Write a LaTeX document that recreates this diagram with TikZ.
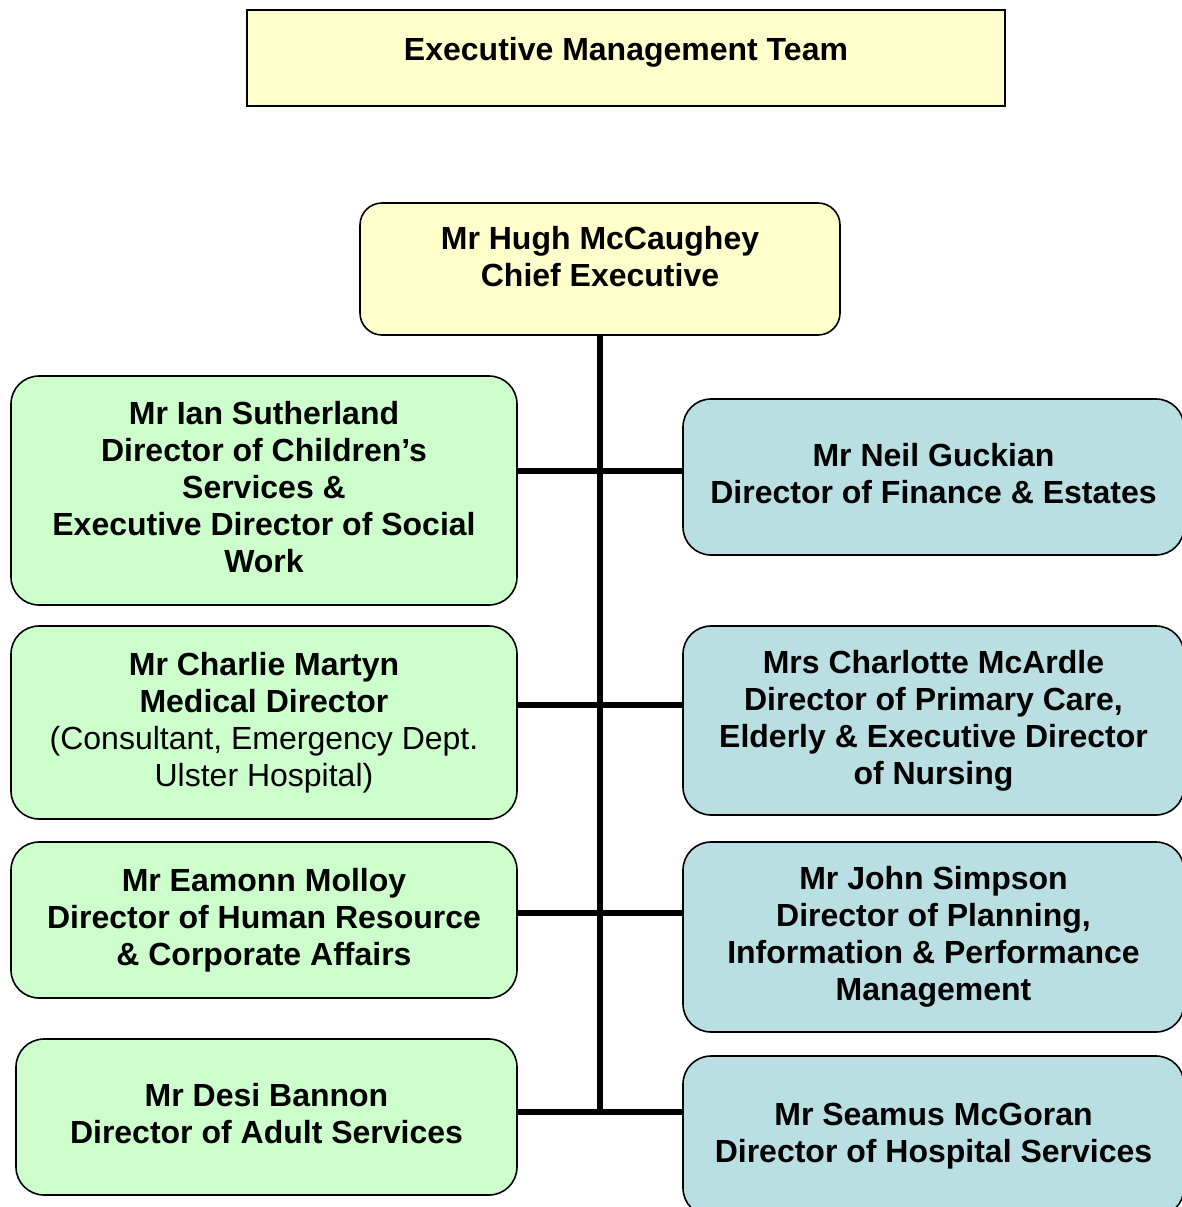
\documentclass[tikz,border=0pt]{standalone}
\usepackage{fontspec}
\setmainfont{Liberation Sans}
\definecolor{paleyellow}{HTML}{FFFFCC}
\definecolor{palegreen}{HTML}{CCFFCC}
\definecolor{paleblue}{HTML}{B9DFE2}
% a little room under the last line lifts the text block slightly
\newcommand{\lift}{\\[-30pt]}
\begin{document}
\begin{tikzpicture}[x=1pt,y=-1pt,
  every node/.style={font=\fontsize{32}{37}\selectfont\bfseries, align=center},
  boxbase/.style={draw=black, line width=1.6pt, inner sep=0pt, outer sep=0pt},
  greenbox/.style={boxbase, fill=palegreen, rounded corners=28pt},
  bluebox/.style={boxbase, fill=paleblue, rounded corners=28pt},
  link/.style={line width=5.5pt}
]
\useasboundingbox (0,0) rectangle (1182,1207);
\clip (0,0) rectangle (1182,1207);
\fill[white] (0,0) rectangle (1182,1207);

% heading panel
\node[boxbase, fill=paleyellow, minimum width=758pt, minimum height=96pt] (emt) at (626,58) {};
\node (emtlabel) at (626,52) {Executive Management Team};

% chief executive
\node[boxbase, fill=paleyellow, rounded corners=22pt, minimum width=480pt, minimum height=132pt] (ceo) at (600,269) {};
\node (ceolabel) at (600,257) {Mr Hugh McCaughey\\Chief Executive};

% left column
\node[greenbox, minimum width=506pt, minimum height=229pt] (l1) at (264,490.5)
  {Mr Ian Sutherland\\Director of Children’s\\Services \&\\Executive Director of Social\\Work\lift};
\node[greenbox, minimum width=506pt, minimum height=193pt] (l2) at (264,722.5)
  {Mr Charlie Martyn\\Medical Director\\\mdseries(Consultant, Emergency Dept.\\\mdseries Ulster Hospital)\lift};
\node[greenbox, minimum width=506pt, minimum height=156pt] (l3) at (264,920)
  {Mr Eamonn Molloy\\Director of Human Resource\\\& Corporate Affairs\lift};
\node[greenbox, minimum width=501pt, minimum height=156pt] (l4) at (266.5,1117)
  {Mr Desi Bannon\\Director of Adult Services\lift};

% right column
\node[bluebox, minimum width=501pt, minimum height=156pt] (r1) at (933.5,477)
  {Mr Neil Guckian\\Director of Finance \& Estates\lift};
\node[bluebox, minimum width=501pt, minimum height=189pt] (r2) at (933.5,720.5)
  {Mrs Charlotte McArdle\\Director of Primary Care,\\Elderly \& Executive Director\\of Nursing\lift};
\node[bluebox, minimum width=501pt, minimum height=190pt] (r3) at (933.5,937)
  {Mr John Simpson\\Director of Planning,\\Information \& Performance\\Management\lift};
\node[bluebox, minimum width=501pt, minimum height=160pt] (r4) at (933.5,1136)
  {Mr Seamus McGoran\\Director of Hospital Services\lift};

% junctions on the spine
\coordinate (j1) at (600,471);
\coordinate (j2) at (600,705);
\coordinate (j3) at (600,913);
\coordinate (j4) at (600,1112);

% connectors
\draw[link] (ceo.south) -- (j4);
\draw[link] (j1 -| l1.east) -- (j1 -| r1.west);
\draw[link] (j2 -| l2.east) -- (j2 -| r2.west);
\draw[link] (j3 -| l3.east) -- (j3 -| r3.west);
\draw[link] (j4 -| l4.east) -- (j4 -| r4.west);
\end{tikzpicture}
\end{document}
